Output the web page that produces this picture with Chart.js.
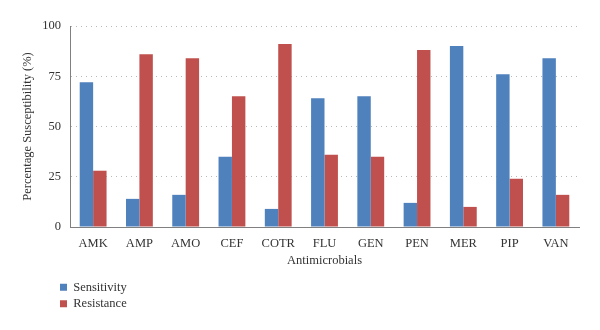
<!DOCTYPE html>
<html><head><meta charset="utf-8">
<script src="https://cdn.jsdelivr.net/npm/chart.js@4/dist/chart.umd.min.js"></script>
<style>html,body{margin:0;padding:0;background:#fff}</style>
</head><body>
<canvas id="c" width="600" height="330"></canvas>
<script>
const categories = ['AMK','AMP','AMO','CEF','COTR','FLU','GEN','PEN','MER','PIP','VAN'];
const sensitivity = [72,14,16,35,9,64,65,12,90,76,84];
const resistance = [28,86,84,65,91,36,35,88,10,24,16];
const yMin = 0, yMax = 100, yStep = 25;

// Stack legend items in a column and indent them, like the reference
const LegendEl = Chart.Legend && Chart.Legend._element;
if (LegendEl) {
  const P = LegendEl.prototype;
  const fitRows = P._fitRows;
  P._fitRows = function(...a){ const mw=this.maxWidth; this.maxWidth=1; const r=fitRows.apply(this,a); this.maxWidth=mw; return r; };
  const draw = P._draw;
  P._draw = function(...a){
    const l=this.left, r=this.right;
    this.left=l+40; this.right=this.left+1;
    try{ draw.apply(this,a);} finally { this.left=l; this.right=r; }
  };
}

const FONT = "'Liberation Serif', 'DejaVu Serif', serif";
const TXT = '#333333';

new Chart(document.getElementById('c'), {
  type: 'bar',
  data: {
    labels: categories,
    datasets: [
      { label: 'Sensitivity', data: sensitivity, backgroundColor: '#4F81BD', borderWidth: 0 },
      { label: 'Resistance', data: resistance, backgroundColor: '#C0504D', borderWidth: 0 }
    ]
  },
  options: {
    responsive: false,
    animation: false,
    devicePixelRatio: 1,
    layout: { padding: { left: 16, right: 21, top: 26, bottom: 10 } },
    datasets: { bar: { categoryPercentage: 0.58, barPercentage: 1.0 } },
    plugins: {
      tooltip: { enabled: false },
      legend: {
        position: 'bottom',
        align: 'start',
        labels: { boxWidth: 7, boxHeight: 7, padding: 4, color: TXT, font: { family: FONT, size: 12.5 } }
      }
    },
    scales: {
      x: {
        grid: { display: false },
        border: { display: true, color: '#808080', width: 1 },
        ticks: { color: TXT, font: { family: FONT, size: 12.5 }, padding: 1, maxRotation: 0 },
        title: { display: true, text: 'Antimicrobials', color: TXT, font: { family: FONT, size: 12.5 }, padding: { top: 4, bottom: 9 } },
        afterFit: (s) => { s.height = 50; }
      },
      y: {
        min: yMin, max: yMax,
        ticks: { stepSize: yStep, color: TXT, font: { family: FONT, size: 12.5 }, padding: 9 },
        grid: { color: '#b8b8b8', drawTicks: false, lineWidth: 1 },
        border: { display: true, color: '#808080', width: 1, dash: [1, 4] },
        title: { display: true, text: 'Percentage Susceptibility (%)', color: TXT, font: { family: FONT, size: 12.5 }, padding: { top: 4, bottom: 4 } },
        afterFit: (s) => { s.width = 54; }
      }
    }
  }
});
</script>
</body></html>
